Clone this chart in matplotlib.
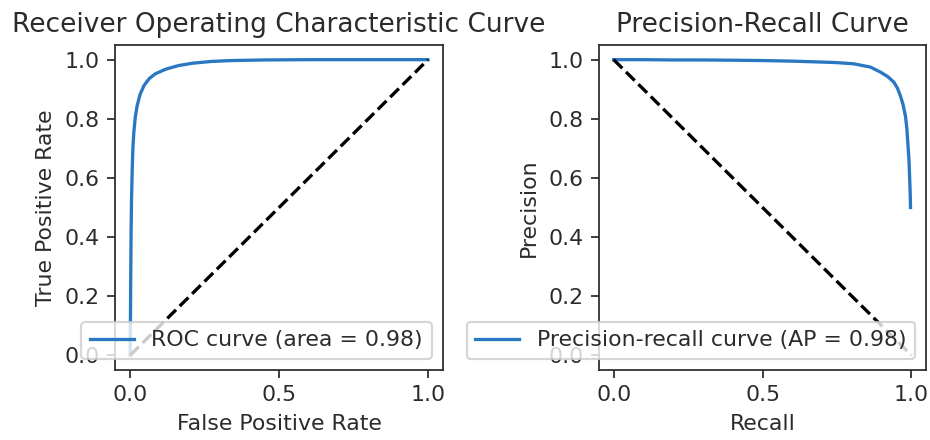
import matplotlib
matplotlib.use("Agg")
import matplotlib.pyplot as plt

# ROC curve points
fpr = [0.0, 0.0, 0.001, 0.002, 0.003, 0.0045, 0.0067, 0.009, 0.012, 0.017, 0.023,
       0.033, 0.046, 0.064, 0.084, 0.12, 0.162, 0.21, 0.273, 0.34, 0.45, 0.6,
       0.75, 0.9, 1.0]
tpr = [0.0, 0.05, 0.15, 0.3, 0.42, 0.53, 0.627, 0.7, 0.752, 0.805, 0.843,
       0.882, 0.912, 0.936, 0.952, 0.968, 0.98, 0.988, 0.994, 0.997, 0.999, 1.0,
       1.0, 1.0, 1.0]
roc_auc = 0.98

# precision-recall curve points
recall = [0.0, 0.1, 0.2, 0.3, 0.415, 0.5, 0.6, 0.695, 0.75, 0.806, 0.862,
          0.896, 0.92, 0.941, 0.953, 0.963, 0.972, 0.98, 0.985, 0.988, 0.992,
          0.994, 0.996, 0.997]
precision = [1.0, 1.0, 0.999, 0.999, 0.998, 0.997, 0.995, 0.992, 0.99, 0.986, 0.975,
             0.958, 0.943, 0.924, 0.904, 0.878, 0.848, 0.809, 0.765, 0.718, 0.66,
             0.604, 0.55, 0.50]
ap = 0.98

xticks = [0.0, 0.5, 1.0]
blue = "#2a78c2"
ink = "#2b2b2b"

plt.rcParams["text.color"] = ink
plt.rcParams["axes.labelcolor"] = ink
plt.rcParams["xtick.color"] = ink
plt.rcParams["ytick.color"] = ink
plt.rcParams["axes.edgecolor"] = ink

# default sizes, rendered at a higher dpi like the original screenshot
dpi = 158
fig, (ax1, ax2) = plt.subplots(1, 2, figsize=(930 / dpi, 440 / dpi), dpi=dpi)
fig.subplots_adjust(left=0.124, right=0.996, bottom=0.159, top=0.898, wspace=0.476)

ax1.plot(fpr, tpr, color=blue, label="ROC curve (area = %0.2f)" % roc_auc)
ax1.plot([0, 1], [0, 1], "k--")
ax1.set_xticks(xticks)
ax1.set_xlabel("False Positive Rate")
ax1.set_ylabel("True Positive Rate")
ax1.set_title("Receiver Operating Characteristic Curve")
ax1.legend(loc="lower right")

ax2.plot(recall, precision, color=blue,
         label="Precision-recall curve (AP = %0.2f)" % ap)
ax2.plot([0, 1], [1, 0], "k--")
ax2.set_xticks(xticks)
ax2.set_xlabel("Recall")
ax2.set_ylabel("Precision")
ax2.set_title("Precision-Recall Curve")
ax2.legend(loc="lower right")

fig.savefig("out.png", dpi=dpi)
